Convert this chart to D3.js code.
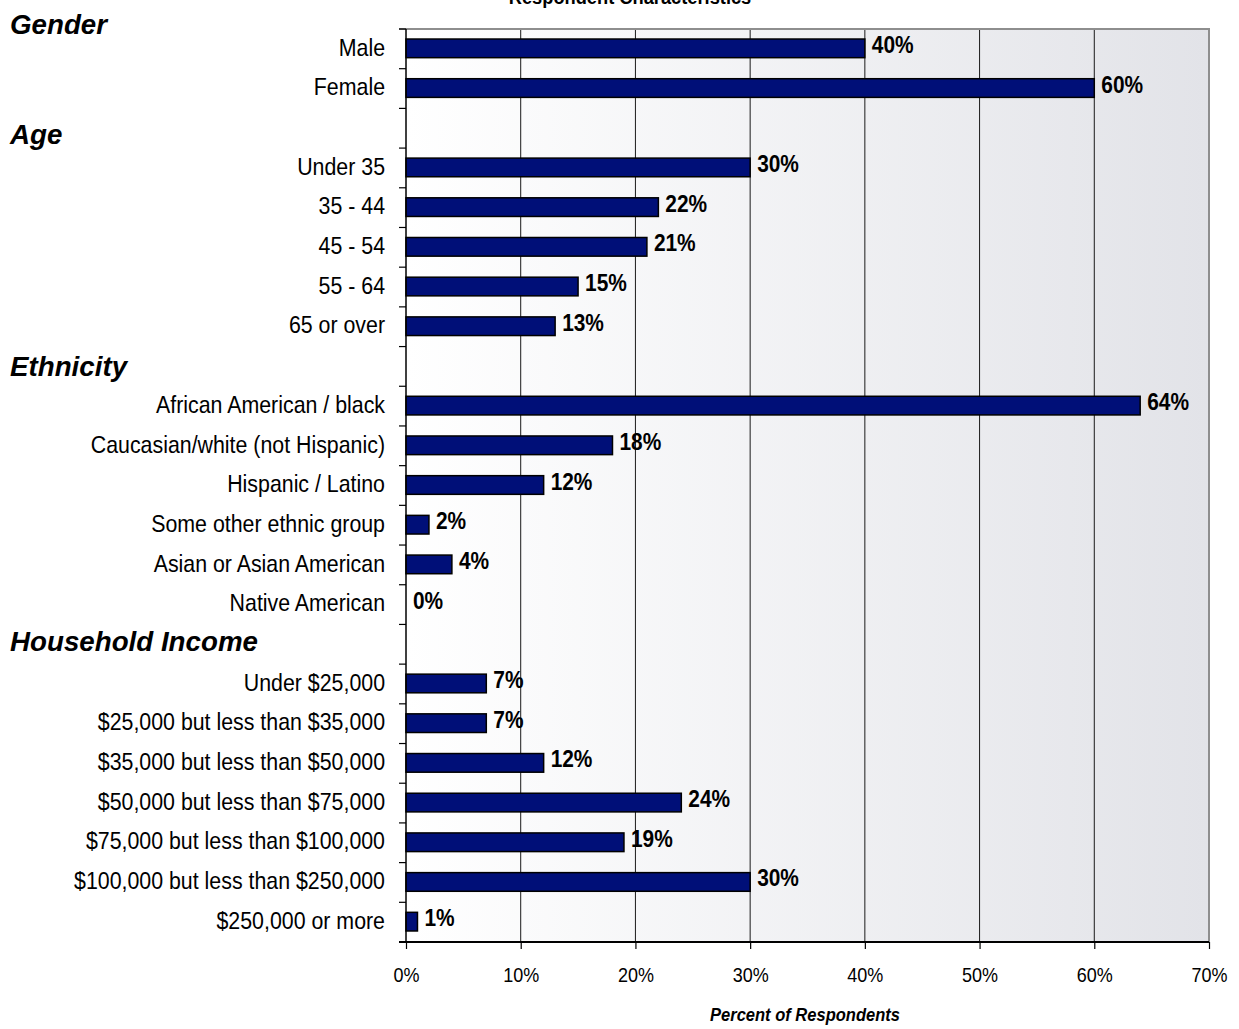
<!DOCTYPE html>
<html><head><meta charset="utf-8">
<script src="https://cdn.jsdelivr.net/npm/d3@7"></script>
<style>
body{margin:0;background:#fff}
svg{display:block}
text{font-family:"Liberation Sans",Arial,Helvetica,sans-serif;fill:#000}
</style></head>
<body><svg id="chart" width="1239" height="1029"></svg>
<script>
const titleText = "Respondent Characteristics";
const axisTitle = "Percent of Respondents";
const groupHeaders = ["Gender", "Age", "Ethnicity", "Household Income"];
const genderCategories = ["Male", "Female"];
const genderValues = [40, 60];
const ageCategories = ["Under 35", "35 - 44", "45 - 54", "55 - 64", "65 or over"];
const ageValues = [30, 22, 21, 15, 13];
const ethnicityCategories = ["African American / black", "Caucasian/white (not Hispanic)", "Hispanic / Latino", "Some other ethnic group", "Asian or Asian American", "Native American"];
const ethnicityValues = [64, 18, 12, 2, 4, 0];
const incomeCategories = ["Under $25,000", "$25,000 but less than $35,000", "$35,000 but less than $50,000", "$50,000 but less than $75,000", "$75,000 but less than $100,000", "$100,000 but less than $250,000", "$250,000 or more"];
const incomeValues = [7, 7, 12, 24, 19, 30, 1];
const xTickValues = [0, 10, 20, 30, 40, 50, 60, 70];

const groups = [
  {header: groupHeaders[0], cats: genderCategories, vals: genderValues},
  {header: groupHeaders[1], cats: ageCategories, vals: ageValues},
  {header: groupHeaders[2], cats: ethnicityCategories, vals: ethnicityValues},
  {header: groupHeaders[3], cats: incomeCategories, vals: incomeValues}
];
const rows = [];
groups.forEach((g, gi) => {
  if (gi > 0) rows.push({id: "gap" + gi, label: "", value: null, header: g.header});
  g.cats.forEach((c, i) => rows.push({id: c, label: c, value: g.vals[i]}));
});

const SX = 0.87;
const svg = d3.select("#chart");
const pL = 406, pR = 1209, pT = 29, pB = 942;
const x = d3.scaleLinear().domain([0, 70]).range([pL, pR]);
const y = d3.scaleBand().domain(rows.map(r => r.id)).range([pT, pB]).paddingInner(0).paddingOuter(0);

// background gradient
const defs = svg.append("defs");
const grad = defs.append("linearGradient").attr("id", "bg").attr("x1", "0").attr("x2", "1").attr("y1", "0").attr("y2", "0");
grad.append("stop").attr("offset", "0").attr("stop-color", "#ffffff");
grad.append("stop").attr("offset", "1").attr("stop-color", "#e2e3e8");
svg.append("rect").attr("x", pL).attr("y", pT).attr("width", pR - pL).attr("height", pB - pT).attr("fill", "url(#bg)");

// gridlines
svg.append("g").selectAll("line").data(xTickValues.filter(d => d > 0 && d < 70)).join("line")
  .attr("x1", d => x(d)).attr("x2", d => x(d)).attr("y1", pT).attr("y2", pB)
  .attr("stroke", "#1a1a1a").attr("stroke-width", 1);
// right & top border
svg.append("line").attr("x1", x(70)).attr("x2", x(70)).attr("y1", pT).attr("y2", pB).attr("stroke", "#8e8e8e").attr("stroke-width", 2);
svg.append("line").attr("x1", pL - 7).attr("x2", pR + 1).attr("y1", pT).attr("y2", pT).attr("stroke", "#8e8e8e").attr("stroke-width", 2);

// bars
const barH = y.bandwidth() * 0.47;
const dataRows = rows.filter(r => r.value !== null);
svg.append("g").selectAll("rect").data(dataRows.filter(r => r.value > 0)).join("rect")
  .attr("x", x(0)).attr("y", d => y(d.id) + (y.bandwidth() - barH) / 2 - 0.5)
  .attr("width", d => x(d.value) - x(0)).attr("height", barH)
  .attr("fill", "#000f78").attr("stroke", "#000").attr("stroke-width", 1.5);

// value labels
svg.append("g").selectAll("text").data(dataRows).join("text")
  .attr("transform", d => `translate(${x(d.value) + 7},${y(d.id) + y.bandwidth() / 2 + 4}) scale(${SX},1)`)
  .attr("font-size", 24).attr("font-weight", "bold")
  .text(d => d.value + "%");

// y axis with labels
const LSX = 0.89;
const yAxis = d3.axisLeft(y).tickSize(0).tickPadding(21 / LSX).tickFormat(id => rows.find(r => r.id === id).label);
const gy = svg.append("g").attr("transform", `translate(${pL},0)`).call(yAxis);
gy.select(".domain").remove();
gy.selectAll("text").attr("font-size", 24).attr("transform", `scale(${LSX},1)`).attr("dy", "0.28em")
  .style("font-family", "'Liberation Sans',Arial,sans-serif").attr("fill", "#000");
// boundary ticks
const boundaries = rows.map(r => y(r.id)).concat([y(rows[rows.length - 1].id) + y.step()]);
svg.append("g").selectAll("line").data(boundaries).join("line")
  .attr("x1", pL - 7).attr("x2", pL).attr("y1", d => d).attr("y2", d => d)
  .attr("stroke", "#000").attr("stroke-width", 1.2);
svg.append("line").attr("x1", pL).attr("x2", pL).attr("y1", pT).attr("y2", pB).attr("stroke", "#000").attr("stroke-width", 1.5);

// x axis
const xAxis = d3.axisBottom(x).tickValues(xTickValues).tickSize(7).tickPadding(19).tickFormat(d => d + "%");
const gx = svg.append("g").attr("transform", `translate(0,${pB})`).call(xAxis);
gx.select(".domain").attr("stroke", "#000").attr("stroke-width", 2).attr("d", `M${pL - 7},0H${pR}`);
gx.selectAll(".tick line").attr("stroke", "#000").attr("stroke-width", 1.2);
gx.selectAll("text").attr("font-size", 20).style("font-family", "'Liberation Sans',Arial,sans-serif")
  .attr("fill", "#000").attr("transform", `scale(0.9,1)`);

// group headers
const headerPos = [
  {name: groupHeaders[0], anchorRow: genderCategories[0], dy: 5},
  {name: groupHeaders[1], anchorRow: ageCategories[0], dy: -4},
  {name: groupHeaders[2], anchorRow: ethnicityCategories[0], dy: -10},
  {name: groupHeaders[3], anchorRow: incomeCategories[0], dy: -13}
];
svg.append("g").selectAll("text").data(headerPos).join("text")
  .attr("transform", d => `translate(10,${y(d.anchorRow) + d.dy}) scale(0.99,1)`)
  .attr("font-size", 28).attr("font-weight", "bold").attr("font-style", "italic")
  .text(d => d.name);

// title (cut off at top, as in the source image)
svg.append("text").attr("transform", `translate(630,4) scale(${SX},1)`).attr("text-anchor", "middle")
  .attr("font-size", 21).attr("font-weight", "bold").text(titleText);

// x axis title
svg.append("text").attr("transform", `translate(805,1021) scale(${SX},1)`).attr("text-anchor", "middle")
  .attr("font-size", 19).attr("font-weight", "bold").attr("font-style", "italic").text(axisTitle);
</script></body></html>
